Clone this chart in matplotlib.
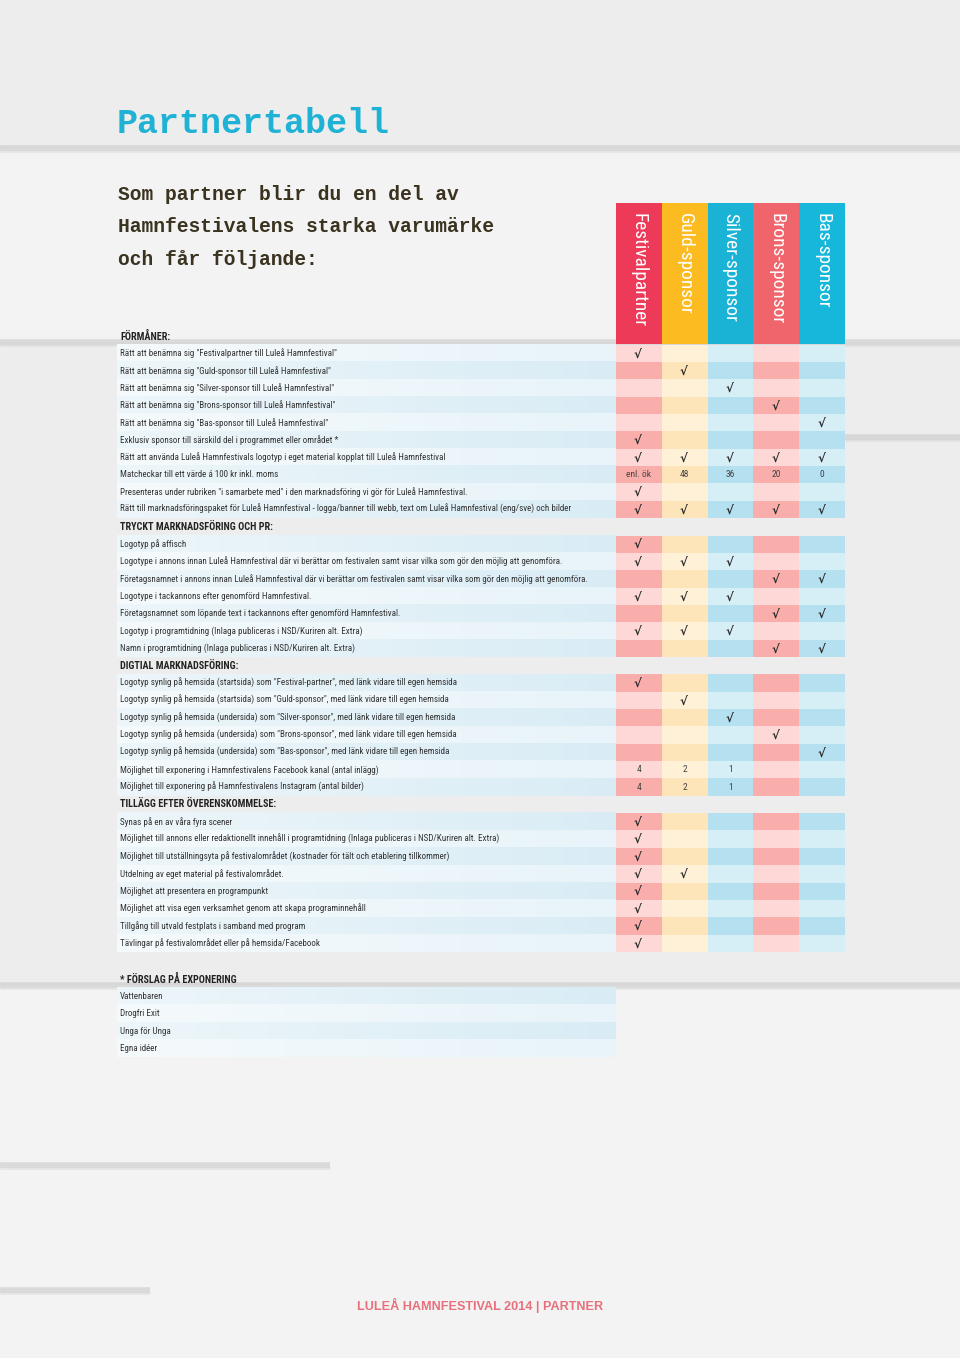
import matplotlib
matplotlib.use("Agg")
import matplotlib.pyplot as plt
import numpy as np
from matplotlib.patches import Rectangle
from matplotlib import font_manager

# ---- data ----
columns = ["Festivalpartner", "Guld-sponsor", "Silver-sponsor", "Brons-sponsor", "Bas-sponsor"]
V = "√"

sec_formaner = "FÖRMÅNER:"
rows_formaner = [
    'Rätt att benämna sig "Festivalpartner till Luleå Hamnfestival"',
    'Rätt att benämna sig "Guld-sponsor till Luleå Hamnfestival"',
    'Rätt att benämna sig "Silver-sponsor till Luleå Hamnfestival"',
    'Rätt att benämna sig "Brons-sponsor till Luleå Hamnfestival"',
    'Rätt att benämna sig "Bas-sponsor till Luleå Hamnfestival"',
    'Exklusiv sponsor till särskild del i programmet eller området *',
    'Rätt att använda Luleå Hamnfestivals logotyp i eget material kopplat till Luleå Hamnfestival',
    'Matcheckar till ett värde á 100 kr inkl. moms',
    'Presenteras under rubriken "i samarbete med" i den marknadsföring vi gör för Luleå Hamnfestival.',
    'Rätt till marknadsföringspaket för Luleå Hamnfestival - logga/banner till webb, text om Luleå Hamnfestival (eng/sve) och bilder',
]
vals_formaner = [
    [V, "", "", "", ""],
    ["", V, "", "", ""],
    ["", "", V, "", ""],
    ["", "", "", V, ""],
    ["", "", "", "", V],
    [V, "", "", "", ""],
    [V, V, V, V, V],
    ["enl. ök", "48", "36", "20", "0"],
    [V, "", "", "", ""],
    [V, V, V, V, V],
]

sec_tryckt = "TRYCKT MARKNADSFÖRING OCH PR:"
rows_tryckt = [
    'Logotyp på affisch',
    'Logotype i annons innan Luleå Hamnfestival där vi berättar om festivalen samt visar vilka som gör den möjlig att genomföra.',
    'Företagsnamnet i annons innan Luleå Hamnfestival där vi berättar om festivalen samt visar vilka som gör den möjlig att genomföra.',
    'Logotype i tackannons efter genomförd Hamnfestival.',
    'Företagsnamnet som löpande text i tackannons efter genomförd Hamnfestival.',
    'Logotyp i programtidning (Inlaga publiceras i NSD/Kuriren alt. Extra)',
    'Namn i programtidning (Inlaga publiceras i NSD/Kuriren alt. Extra)',
]
vals_tryckt = [
    [V, "", "", "", ""],
    [V, V, V, "", ""],
    ["", "", "", V, V],
    [V, V, V, "", ""],
    ["", "", "", V, V],
    [V, V, V, "", ""],
    ["", "", "", V, V],
]

sec_digital = "DIGTIAL MARKNADSFÖRING:"
rows_digital = [
    'Logotyp synlig på hemsida (startsida) som "Festival-partner", med länk vidare till egen hemsida',
    'Logotyp synlig på hemsida (startsida) som "Guld-sponsor", med länk vidare till egen hemsida',
    'Logotyp synlig på hemsida (undersida) som "Silver-sponsor", med länk vidare till egen hemsida',
    'Logotyp synlig på hemsida (undersida) som "Brons-sponsor", med länk vidare till egen hemsida',
    'Logotyp synlig på hemsida (undersida) som "Bas-sponsor", med länk vidare till egen hemsida',
    'Möjlighet till exponering i Hamnfestivalens Facebook kanal (antal inlägg)',
    'Möjlighet till exponering på Hamnfestivalens Instagram (antal bilder)',
]
vals_digital = [
    [V, "", "", "", ""],
    ["", V, "", "", ""],
    ["", "", V, "", ""],
    ["", "", "", V, ""],
    ["", "", "", "", V],
    ["4", "2", "1", "", ""],
    ["4", "2", "1", "", ""],
]

sec_tillagg = "TILLÄGG EFTER ÖVERENSKOMMELSE:"
rows_tillagg = [
    'Synas på en av våra fyra scener',
    'Möjlighet till annons eller redaktionellt innehåll i programtidning (Inlaga publiceras i NSD/Kuriren alt. Extra)',
    'Möjlighet till utställningsyta på festivalområdet (kostnader för tält och etablering tillkommer)',
    'Utdelning av eget material på festivalområdet.',
    'Möjlighet att presentera en programpunkt',
    'Möjlighet att visa egen verksamhet genom att skapa programinnehåll',
    'Tillgång till utvald festplats i samband med program',
    'Tävlingar på festivalområdet eller på hemsida/Facebook',
]
vals_tillagg = [
    [V, "", "", "", ""],
    [V, "", "", "", ""],
    [V, "", "", "", ""],
    [V, V, "", "", ""],
    [V, "", "", "", ""],
    [V, "", "", "", ""],
    [V, "", "", "", ""],
    [V, "", "", "", ""],
]

sec_forslag = "* FÖRSLAG PÅ EXPONERING"
rows_forslag = ["Vattenbaren", "Drogfri Exit", "Unga för Unga", "Egna idéer"]

title = "Partnertabell"
subtitle = ["Som partner blir du en del av", "Hamnfestivalens starka varumärke", "och får följande:"]
footer = "LULEÅ HAMNFESTIVAL 2014 | PARTNER"

# ---- style ----
head_colors = ["#ec3a58", "#fdbb22", "#1ab3d6", "#f0656b", "#16b7da"]
cell_light = ["#fdd8d6", "#fff0d8", "#d6eff7", "#fdd8d6", "#d6eff7"]
cell_dark = ["#f9aeab", "#fee4b9", "#b5e0ef", "#f9aeab", "#b5e0ef"]

installed = {f.name for f in font_manager.fontManager.ttflist}


def pick(*names):
    for n in names:
        if n in installed:
            return n
    return "DejaVu Sans"


COND = pick("Liberation Sans Narrow", "Roboto Condensed", "Roboto", "Liberation Sans")
TYPE = pick("Liberation Mono", "DejaVu Sans Mono")

W, H = 960, 1358
fig = plt.figure(figsize=(9.6, 13.58), dpi=100)
fig.patch.set_facecolor("#efefef")
ax = fig.add_axes([0, 0, 1, 1])
ax.axis("off")

# weathered planks behind everything (soft gaps between boards)
plank_edges = [148, 342, 985]
for k in range(len(plank_edges) + 1):
    y0 = 0 if k == 0 else plank_edges[k - 1]
    y1 = H if k == len(plank_edges) else plank_edges[k]
    ax.add_patch(Rectangle((0, y0), W, y1 - y0, facecolor="#f3f3f3" if k % 2 else "#ededed",
                           edgecolor="none", zorder=0))
streaks = [(148, 0, 960), (342, 0, 960), (437, 845, 960), (985, 0, 960),
           (1165, 0, 330), (1290, 0, 150)]
for y, xa, xb in streaks:
    ax.plot([xa, xb], [y, y], color="#bdbdbd", lw=4, alpha=0.45, zorder=0.5,
            solid_capstyle="butt")
    ax.plot([xa, xb], [y + 3, y + 3], color="#d0d0d0", lw=2, alpha=0.4, zorder=0.5,
            solid_capstyle="butt")

# ---- layout ----
X_TXT = 120
BAND_X0, BAND_X1 = 117, 616
COL_X0, COL_W = 616, 45.8
HEAD_Y0, HEAD_Y1 = 203, 344
Y0, PITCH = 336, 17.35


def band(yc, dark):
    c0 = np.array(matplotlib.colors.to_rgb("#edf6fa" if dark else "#f5fafc"))
    c1 = np.array(matplotlib.colors.to_rgb("#d9ecf5" if dark else "#e8f4f9"))
    t = np.linspace(0, 1, 64)[None, :, None]
    img = c0 + (c1 - c0) * t
    ax.imshow(img, extent=[BAND_X0, BAND_X1, yc + PITCH / 2, yc - PITCH / 2],
              aspect="auto", zorder=1, interpolation="bilinear")


# column heads
head_texts = []
for i, name in enumerate(columns):
    ax.add_patch(Rectangle((COL_X0 + i * COL_W, HEAD_Y0), COL_W, HEAD_Y1 - HEAD_Y0,
                           facecolor=head_colors[i], edgecolor="none", zorder=2))
    head_texts.append(ax.text(COL_X0 + (i + 0.5) * COL_W, HEAD_Y0 + 10, name, rotation=270,
                              ha="center", va="top", color="white", fontsize=14,
                              family=COND, zorder=3))

sections = [
    (sec_formaner, rows_formaner, vals_formaner),
    (sec_tryckt, rows_tryckt, vals_tryckt),
    (sec_digital, rows_digital, vals_digital),
    (sec_tillagg, rows_tillagg, vals_tillagg),
]

label_texts, sec_texts, val_texts = [], [], []
slot = 0
for sec, rows, vals in sections:
    yc = Y0 + slot * PITCH
    sec_texts.append(ax.text(X_TXT, yc, sec, ha="left", va="center", fontsize=7,
                             fontweight="bold", family=COND, color="#222222", zorder=3))
    slot += 1
    for label, rv in zip(rows, vals):
        yc = Y0 + slot * PITCH
        dark = slot % 2 == 0
        band(yc, dark)
        label_texts.append(ax.text(X_TXT, yc, label, ha="left", va="center", fontsize=6,
                                   family=COND, color="#333333", zorder=3))
        for i, v in enumerate(rv):
            ax.add_patch(Rectangle((COL_X0 + i * COL_W, yc - PITCH / 2), COL_W, PITCH,
                                   facecolor=(cell_dark if dark else cell_light)[i],
                                   edgecolor="none", zorder=2))
            if v == V:
                ax.text(COL_X0 + (i + 0.5) * COL_W - 1, yc + 0.5, v, ha="center", va="center",
                        fontsize=8.5, family="DejaVu Sans", fontweight="bold",
                        color="#2a2a2a", zorder=3)
            elif v:
                val_texts.append(ax.text(COL_X0 + (i + 0.5) * COL_W, yc, v, ha="center",
                                         va="center", fontsize=6, family=COND,
                                         color="#444444", zorder=3))
        slot += 1

# footnote block
F_Y0 = 979
sec_texts.append(ax.text(X_TXT, F_Y0, sec_forslag, ha="left", va="center", fontsize=7,
                         fontweight="bold", family=COND, color="#222222", zorder=3))
for k, label in enumerate(rows_forslag):
    yc = F_Y0 + (k + 1) * PITCH
    band(yc, k % 2 == 0)
    label_texts.append(ax.text(X_TXT, yc, label, ha="left", va="center", fontsize=6,
                               family=COND, color="#333333", zorder=3))

# titles
t_title = ax.text(117, 133, title, ha="left", va="baseline", fontsize=30,
                  family=TYPE, fontweight="bold", color="#1fb2d4", zorder=3)
sub_texts = []
for k, line in enumerate(subtitle):
    sub_texts.append(ax.text(118, 200 + k * 32.5, line, ha="left", va="baseline",
                             fontsize=14, family=TYPE, fontweight="bold",
                             color="#3a3320", zorder=3))
t_foot = ax.text(480, 1305, footer, ha="center", va="center", fontsize=8,
                 fontweight="bold", family="Liberation Sans", color="#e8707c", zorder=3)

ax.set_xlim(0, W)
ax.set_ylim(H, 0)

# size fonts so the widest strings span what they do in the layout
fig.canvas.draw()
renderer = fig.canvas.get_renderer()


def fit(texts, ref, target, vertical=False):
    bb = ref.get_window_extent(renderer)
    size = bb.height if vertical else bb.width
    scale = target / size
    for t in texts:
        t.set_fontsize(t.get_fontsize() * scale)


fit(label_texts, label_texts[9], 452)
for t in val_texts:
    t.set_fontsize(label_texts[0].get_fontsize() * 1.05)
fit(sec_texts, sec_texts[1], 152)
fit(head_texts, head_texts[0], 115, vertical=True)
fit([t_title], t_title, 273)
fit(sub_texts, sub_texts[1], 380)
fit([t_foot], t_foot, 244)

fig.savefig("out.png", dpi=100, facecolor=fig.get_facecolor())
